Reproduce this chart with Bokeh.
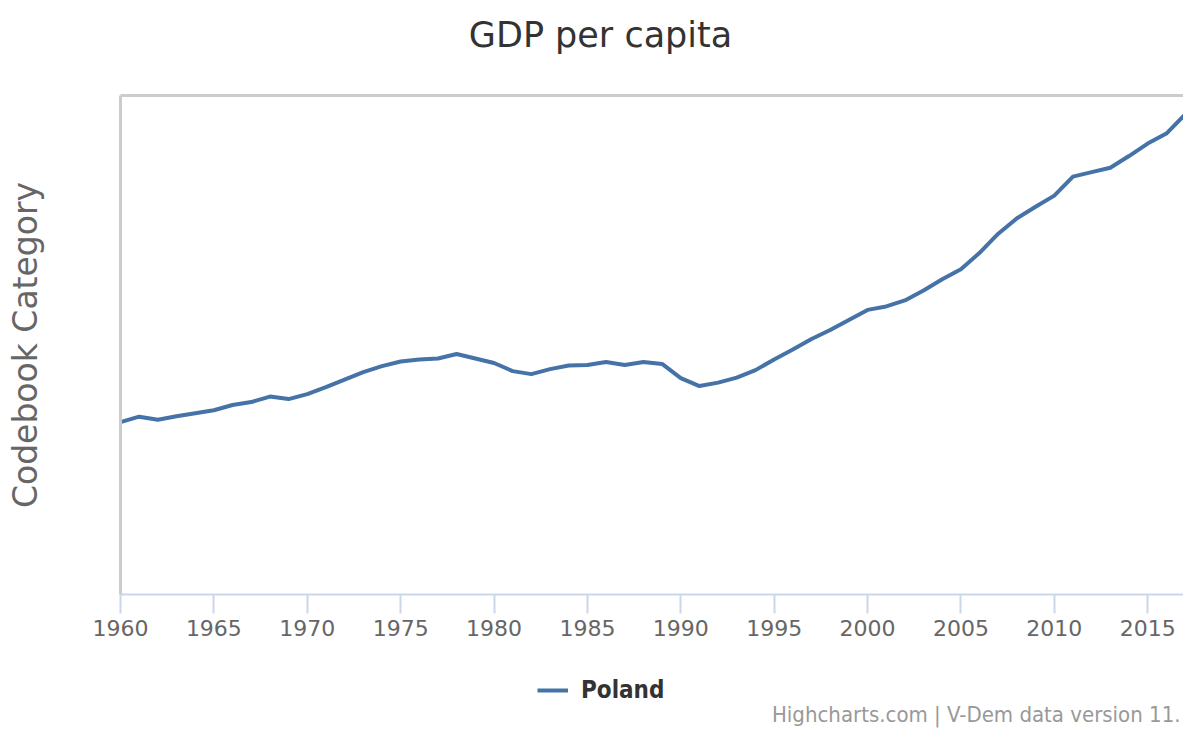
from bokeh.plotting import figure
from bokeh.models import Range1d, FixedTicker, LinearAxis, Legend, LegendItem, Label
from bokeh.layouts import column
from bokeh.embed import file_html
from bokeh.resources import INLINE

# ---- data ----
country = "Poland"
years = list(range(1960, 2019))
gdppc = [10.36, 10.69, 10.51, 10.72, 10.90, 11.08, 11.39, 11.57, 11.90, 11.75,
         12.05, 12.47, 12.92, 13.37, 13.73, 14.01, 14.13, 14.19, 14.46, 14.19,
         13.92, 13.43, 13.25, 13.55, 13.77, 13.80, 13.98, 13.80, 13.98, 13.86,
         13.01, 12.53, 12.74, 13.04, 13.49, 14.13, 14.73, 15.36, 15.90, 16.51,
         17.11, 17.32, 17.68, 18.28, 18.95, 19.55, 20.54, 21.69, 22.62, 23.31,
         23.98, 25.12, 25.39, 25.66, 26.36, 27.11, 27.71, 28.86, 29.70]
x_ticks = [1960, 1965, 1970, 1975, 1980, 1985, 1990, 1995, 2000, 2005, 2010, 2015]
title_text = "GDP per capita"
y_label_text = "Codebook Category"
credits_text = "Highcharts.com | V-Dem data version 11."

W = 1183
LEFT = 120
H_HEAD, H_MAIN, H_FOOT = 90, 560, 80
FONT = "DejaVu Sans"
COND = "DejaVu Sans Condensed"
LINE_COLOR = "#4572A7"


def blank(height):
    # frames of stacked figures are aligned with the main frame (x from LEFT to W)
    f = figure(width=W, height=height, output_backend="svg", toolbar_location=None,
               x_range=Range1d(LEFT, W), y_range=Range1d(height, 0),
               x_axis_type=None, y_axis_type=None,
               min_border_left=0, min_border_right=0, min_border_top=0, min_border_bottom=0)
    f.outline_line_color = None
    f.background_fill_color = "white"
    f.border_fill_color = "white"
    f.grid.visible = False
    return f


# ---- header with the title ----
head = blank(H_HEAD)
head.add_layout(Label(x=600, y=34.5, text=title_text, text_align="center",
                      text_baseline="alphabetic", text_font=FONT, text_font_size="35px",
                      text_color="#333333"))

# ---- main chart ----
p = figure(width=W, height=H_MAIN, output_backend="svg", toolbar_location=None,
           x_range=Range1d(1960, 1960 + (W - 120.5) / 18.667), y_range=Range1d(0, 30),
           min_border_left=LEFT, min_border_right=0, min_border_top=5,
           min_border_bottom=56)
p.background_fill_color = "white"
p.border_fill_color = "white"
p.outline_line_color = None
p.xgrid.visible = False
p.ygrid.visible = False

r = p.line(years, gdppc, line_color=LINE_COLOR, line_width=4, line_join="round")

xa = p.xaxis[0]
xa.ticker = FixedTicker(ticks=x_ticks)
xa.minor_tick_line_color = None
xa.axis_line_color = "#ccd6eb"
xa.axis_line_width = 2
xa.major_tick_line_color = "#ccd6eb"
xa.major_tick_line_width = 2
xa.major_tick_in = 0
xa.major_tick_out = 19
xa.major_label_standoff = 6
xa.major_label_text_font = FONT
xa.major_label_text_font_size = "22px"
xa.major_label_text_color = "#666666"

ya = p.yaxis[0]
ya.ticker = FixedTicker(ticks=[])
ya.minor_tick_line_color = None
ya.major_tick_line_color = None
ya.major_label_text_font_size = "0px"
ya.axis_line_color = "#cccccc"
ya.axis_line_width = 3
ya.axis_label = y_label_text
ya.axis_label_text_font = FONT
ya.axis_label_text_font_size = "33px"
ya.axis_label_text_font_style = "normal"
ya.axis_label_text_color = "#666666"
ya.axis_label_standoff = 76

ta = LinearAxis(ticker=FixedTicker(ticks=[]), axis_line_color="#cccccc", axis_line_width=3,
                major_tick_line_color=None, minor_tick_line_color=None,
                major_label_text_font_size="0px")
p.add_layout(ta, "above")

# ---- footer with legend and credits ----
foot = blank(H_FOOT)
# legend proxy: the same series, lying outside this strip's visible range
proxy = foot.line(years, gdppc, line_color=LINE_COLOR, line_width=4)
legend = Legend(items=[LegendItem(label=country, renderers=[proxy])], location=(417, 26),
                orientation="horizontal", padding=0, margin=0, border_line_color=None,
                background_fill_alpha=0, glyph_width=31, glyph_height=24, label_height=24,
                label_standoff=13, label_text_font=COND, label_text_font_style="bold",
                label_text_font_size="24px", label_text_color="#333333")
foot.add_layout(legend)
foot.add_layout(Label(x=W - 3, y=64, text=credits_text, text_align="right",
                      text_baseline="alphabetic", text_font=COND, text_font_size="22px",
                      text_color="#999999"))

layout = column(head, p, foot, spacing=0)
open("out.html", "w").write(file_html(layout, INLINE))
